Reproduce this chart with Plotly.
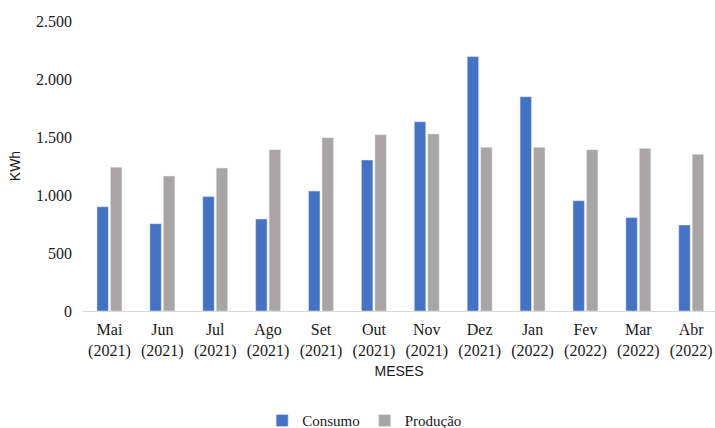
import plotly.graph_objects as go

months = ["Mai<br>(2021)", "Jun<br>(2021)", "Jul<br>(2021)", "Ago<br>(2021)", "Set<br>(2021)", "Out<br>(2021)",
          "Nov<br>(2021)", "Dez<br>(2021)", "Jan<br>(2022)", "Fev<br>(2022)", "Mar<br>(2022)", "Abr<br>(2022)"]
consumo = [899, 753, 986, 793, 1034, 1302, 1632, 2193, 1848, 951, 805, 741]
producao = [1239, 1164, 1233, 1391, 1494, 1520, 1526, 1411, 1411, 1391, 1402, 1351]
y_ticks = [0, 500, 1000, 1500, 2000, 2500]
y_tick_text = ["0", "500", "1.000", "1.500", "2.000", "2.500"]

serif = "Liberation Serif, Times New Roman, serif"
sans = "Liberation Sans, Arial, sans-serif"

fig = go.Figure()
fig.add_trace(go.Bar(name="Consumo", x=months, y=consumo, marker_color="#4472C4"))
fig.add_trace(go.Bar(name="Produção", x=months, y=producao, marker_color="#A9A5A5"))

fig.update_layout(
    width=715, height=428,
    margin=dict(l=83, r=0, t=21, b=117, autoexpand=False),
    paper_bgcolor="white", plot_bgcolor="white",
    barmode="group", bargap=0.49, bargroupgap=0.15,
    font=dict(family=serif, size=16, color="#1a1a1a"),
    showlegend=True,
    legend=dict(orientation="h", xref="container", yref="container",
                x=0.51, xanchor="center", y=0.017, yanchor="middle",
                font=dict(family=serif, size=15, color="#1a1a1a"), itemwidth=30,
                traceorder="normal"),
)
fig.update_xaxes(
    range=[-0.5, 11.45], showgrid=False, showline=True, linecolor="#D9D9D9", linewidth=1,
    ticks="", ticklabelstandoff=4, automargin=False,
    tickfont=dict(family=serif, size=16, color="#1a1a1a"),
    title=dict(text="MESES", font=dict(family=sans, size=14, color="#1a1a1a"), standoff=7),
)
fig.update_yaxes(
    range=[0, 2500], tickvals=y_ticks, ticktext=y_tick_text, showgrid=False, showline=False,
    zeroline=False, ticks="", ticklabelstandoff=10, automargin=False,
    tickfont=dict(family=serif, size=16, color="#1a1a1a"),
    title=dict(text="KWh", font=dict(family=sans, size=14, color="#1a1a1a"), standoff=12),
)

fig.write_html("out.html")
